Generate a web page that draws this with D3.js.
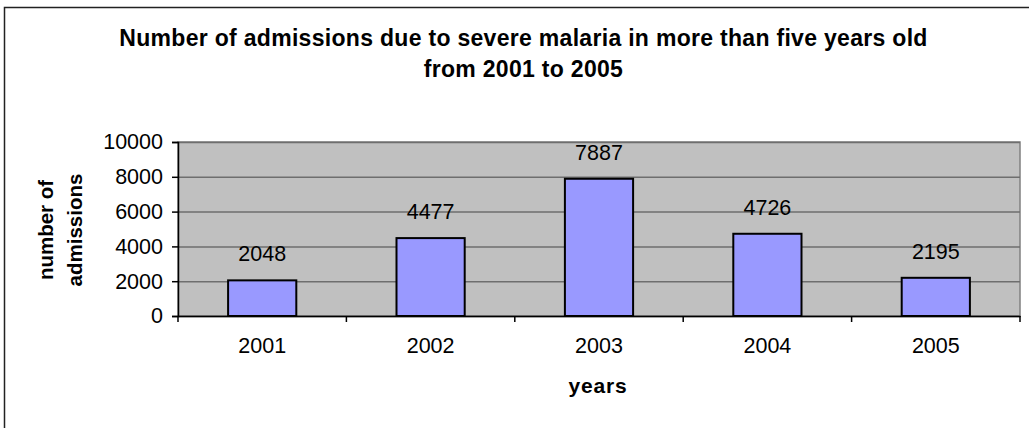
<!DOCTYPE html>
<html>
<head>
<meta charset="utf-8">
<script src="https://cdn.jsdelivr.net/npm/d3@7"></script>
<style>
  body { margin: 0; background: #fff; }
  text { font-family: "Liberation Sans", Arial, sans-serif; }
</style>
</head>
<body>
<div id="viscontainer"></div>
<script>
const years = ["2001", "2002", "2003", "2004", "2005"];
const admissions = [2048, 4477, 7887, 4726, 2195];
const yTicks = [0, 2000, 4000, 6000, 8000, 10000];
const titleLines = [
  "Number of admissions due to severe malaria in more than five years old",
  "from 2001 to 2005",
];
const yLabelLines = ["number of", "admissions"];
const xLabel = "years";

function makeVis() {
  const width = 1029;
  const height = 428;
  const marginTop = 142;
  const marginRight = 9;
  const marginBottom = 112;
  const marginLeft = 178;

  const data = years.map((y, i) => ({ year: y, count: admissions[i] }));

  const svg = d3.create("svg").attr("width", width).attr("height", height);
  document.getElementById("viscontainer").append(svg.node());

  // outer chart frame (cropped at right and bottom)
  svg.append("rect")
    .attr("x", 4.5).attr("y", 7.5)
    .attr("width", 1040).attr("height", 440)
    .attr("fill", "none")
    .attr("stroke", "#222")
    .attr("stroke-width", 1.5);

  const xScale = d3.scaleBand()
    .domain(years)
    .range([marginLeft, width - marginRight]);

  const yScale = d3.scaleLinear()
    .domain([0, d3.max(yTicks)])
    .range([height - marginBottom, marginTop]);

  // plot background
  svg.append("rect")
    .attr("x", marginLeft)
    .attr("y", marginTop)
    .attr("width", width - marginRight - marginLeft)
    .attr("height", height - marginBottom - marginTop)
    .attr("fill", "#c0c0c0")
    .attr("stroke", "#808080")
    .attr("stroke-width", 1.5);

  // gridlines
  svg.append("g")
    .attr("transform", `translate(${marginLeft}, 0)`)
    .call(d3.axisLeft(yScale).tickValues(yTicks)
      .tickSize(-(width - marginRight - marginLeft)).tickFormat(""))
    .call((g) => g.select(".domain").remove())
    .call((g) => g.selectAll("line").attr("stroke", "#6e6e6e").attr("stroke-width", 1.5));

  // bars
  const barW = xScale.bandwidth() * 0.405;
  svg.selectAll("rect.bar")
    .data(data)
    .join("rect")
    .attr("class", "bar")
    .attr("x", (d) => xScale(d.year) + (xScale.bandwidth() - barW) / 2)
    .attr("y", (d) => yScale(d.count))
    .attr("width", barW)
    .attr("height", (d) => yScale(0) - yScale(d.count))
    .attr("fill", "#9999ff")
    .attr("stroke", "#000")
    .attr("stroke-width", 2);

  // value labels
  svg.selectAll("text.val")
    .data(data)
    .join("text")
    .attr("class", "val")
    .attr("x", (d) => xScale(d.year) + xScale.bandwidth() / 2)
    .attr("y", (d) => yScale(d.count) - 19)
    .attr("text-anchor", "middle")
    .attr("font-size", 21.5)
    .attr("fill", "#000")
    .text((d) => d.count);

  // y axis
  svg.append("g")
    .attr("transform", `translate(${marginLeft}, 0)`)
    .call(d3.axisLeft(yScale).tickValues(yTicks).tickSize(6).tickPadding(9)
      .tickFormat(d3.format("d")))
    .call((g) => g.select(".domain").attr("stroke", "#000").attr("stroke-width", 1.5))
    .call((g) => g.selectAll("line").attr("stroke", "#000").attr("stroke-width", 1.5))
    .call((g) => g.selectAll("text").attr("font-size", 21.5).attr("fill", "#000")
      .attr("font-family", "Liberation Sans, Arial, sans-serif"));

  // x axis
  const xAxis = svg.append("g")
    .attr("transform", `translate(0, ${height - marginBottom})`)
    .call(d3.axisBottom(xScale).tickSize(0).tickPadding(22))
    .call((g) => g.select(".domain").attr("stroke", "#000").attr("stroke-width", 1.5))
    .call((g) => g.selectAll("text").attr("font-size", 21.5).attr("fill", "#000")
      .attr("font-family", "Liberation Sans, Arial, sans-serif"));

  // tick marks at category boundaries
  const bounds = years.map((y) => xScale(y)).concat([xScale.range()[1]]);
  xAxis.selectAll("line.bound")
    .data(bounds)
    .join("line")
    .attr("class", "bound")
    .attr("x1", (d) => d).attr("x2", (d) => d)
    .attr("y1", 0).attr("y2", 6)
    .attr("stroke", "#000")
    .attr("stroke-width", 1.5);

  // title
  svg.append("g")
    .selectAll("text")
    .data(titleLines)
    .join("text")
    .attr("x", 523.5)
    .attr("y", (d, i) => 46 + i * 31)
    .attr("text-anchor", "middle")
    .attr("font-size", 23)
    .attr("font-weight", "bold")
    .attr("letter-spacing", 0.3)
    .text((d) => d);

  // y label
  svg.append("g")
    .attr("transform", `translate(53, 230) rotate(-90)`)
    .selectAll("text")
    .data(yLabelLines)
    .join("text")
    .attr("x", 0)
    .attr("y", (d, i) => i * 29)
    .attr("text-anchor", "middle")
    .attr("font-size", 20.5)
    .attr("font-weight", "bold")
    .text((d) => d);

  // x label
  svg.append("text")
    .attr("x", 598)
    .attr("y", 393)
    .attr("text-anchor", "middle")
    .attr("font-size", 21)
    .attr("font-weight", "bold")
    .attr("letter-spacing", 0.8)
    .text(xLabel);
}

makeVis();
</script>
</body>
</html>
